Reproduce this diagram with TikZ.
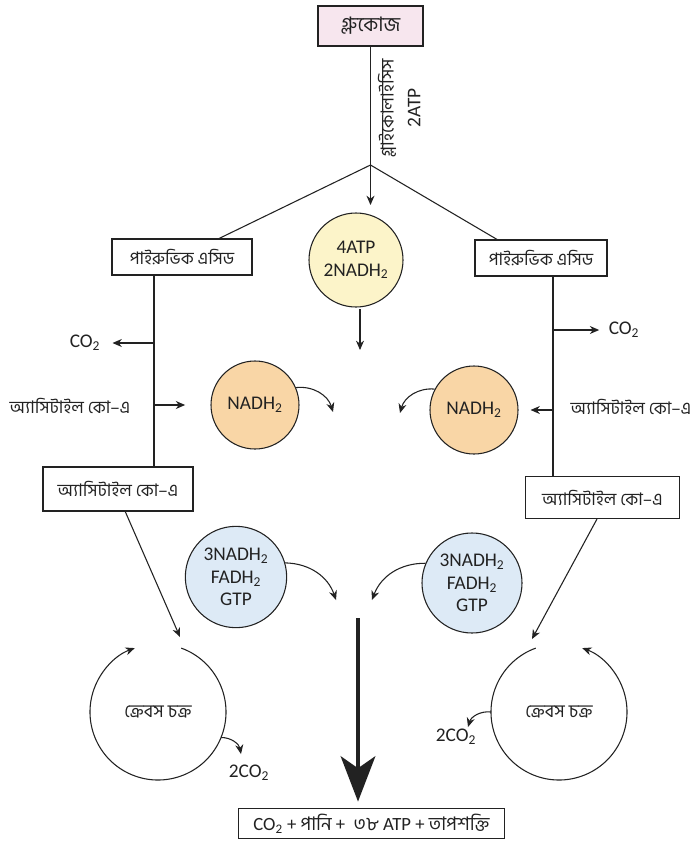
\documentclass[tikz,border=0pt]{standalone}
\usepackage{fontspec}
\setmainfont{Carlito}
\newfontfamily\bn[Script=Bengali]{Hind Siliguri}
\usetikzlibrary{arrows.meta}
\definecolor{pinkbox}{HTML}{F7E6EE}
\definecolor{yel}{HTML}{FCF4C9}
\definecolor{ora}{HTML}{F9D6A6}
\definecolor{blu}{HTML}{DDEAF6}
\definecolor{ink}{HTML}{222222}
\begin{document}
\begin{tikzpicture}[x=0.75pt,y=-0.75pt,
  box/.style={draw=ink, line width=0.9pt, fill=white, inner sep=0pt, text=ink, font=\bn\fontsize{13}{15}\selectfont},
  ln/.style={line width=0.8pt, draw=ink},
  arr/.style={ln, -{Stealth[length=7pt,width=6pt]}},
  bub/.style={circle, draw=ink, line width=0.8pt, inner sep=0pt, align=center, text=ink, font=\fontsize{14.5}{17}\selectfont},
  lbl/.style={inner sep=0pt, text=ink, font=\fontsize{14.5}{17}\selectfont},
  bnl/.style={inner sep=0pt, text=ink, font=\bn\fontsize{13}{15}\selectfont},
  kb/.style={inner sep=0pt, text=ink, font=\bn\fontsize{13.5}{15}\selectfont}
]
\fill[white] (0,0) rectangle (693,843);
\useasboundingbox (0,0) rectangle (693,843);

% nodes
\node[box, fill=pinkbox, line width=1.2pt, minimum width=78.75pt, minimum height=30pt, font=\bn\fontsize{15}{17}\selectfont] (glu) at (370.5,26) {গ্লুকোজ};
\node[bnl, font=\bn\fontsize{13.4}{15}\selectfont, rotate=90] (gly) at (387,108) {গ্লাইকোলাইসিস};
\node[lbl, rotate=90] (atp2) at (414,108) {2ATP};

\node[box, minimum width=105pt, minimum height=27pt] (pL) at (182,257) {পাইরুভিক এসিড};
\node[box, minimum width=99pt, minimum height=27pt] (pR) at (541,258) {পাইরুভিক এসিড};

\node[bub, fill=yel, minimum size=70.5pt] (yc) at (356,260) {4ATP\\2NADH\textsubscript{2}};

\node[lbl] (co2L) at (85,343) {CO\textsubscript{2}};
\node[lbl] (co2R) at (624,330) {CO\textsubscript{2}};
\node[bnl] (acL) at (70,406) {অ্যাসিটাইল কো–এ};
\node[bnl] (acR) at (631,407) {অ্যাসিটাইল কো–এ};

\node[bub, fill=ora, minimum size=66pt] (oL) at (255,405) {NADH\textsubscript{2}};
\node[bub, fill=ora, minimum size=66pt] (oR) at (474,410) {NADH\textsubscript{2}};

\node[box, minimum width=112.5pt, minimum height=33pt] (aL) at (118,489) {অ্যাসিটাইল কো–এ};
\node[box, minimum width=116pt, minimum height=32pt] (aR) at (602.5,497.5) {অ্যাসিটাইল কো–এ};

\node[bub, fill=blu, minimum size=76pt] (bL) at (236,577) {3NADH\textsubscript{2}\\FADH\textsubscript{2}\\GTP};
\node[bub, fill=blu, minimum size=75pt] (bR) at (472,583) {3NADH\textsubscript{2}\\FADH\textsubscript{2}\\GTP};

\node[kb] (kL) at (158,712) {ক্রেবস চক্র};
\node[kb] (kR) at (559,712) {ক্রেবস চক্র};
\node[lbl] (c2L) at (249,773) {2CO\textsubscript{2}};
\node[lbl] (c2R) at (456,737) {2CO\textsubscript{2}};

\node[box, font=\fontsize{14}{16}\selectfont, minimum width=200pt, minimum height=23pt] (res) at (371.5,823.5)
  {CO\textsubscript{2} + {\bn পানি} + \ {\bn ৩৮} ATP + {\bn তাপশক্তি}};

% coordinates
\coordinate (br) at (370.5,165);
\coordinate (gt) at (370.5,205);
\coordinate (pLt) at (218,239);
\coordinate (pRt) at (498,240);
\coordinate (vL) at (154,0);
\coordinate (vR) at (553,0);
\coordinate (ya1) at (360,309);
\coordinate (ya2) at (360,350);
\coordinate (oLe) at (333,412);
\coordinate (oRe) at (400,413);
\coordinate (bLe) at (336,600);
\coordinate (bRe) at (372,600);
\coordinate (aLs) at (125,511);
\coordinate (kLin) at (180,637);
\coordinate (aRs) at (597,519);
\coordinate (kRin) at (532,639);
\coordinate (c2Lt) at (241,754);
\coordinate (c2Rt) at (468,727);
\coordinate (t1) at (358,618);

% connectors
\draw[arr] (glu.south) -- (gt);
\draw[ln] (br) -- (pLt);
\draw[ln] (br) -- (pRt);
\draw[arr] (ya1) -- (ya2);

\draw[ln] (pL.south -| vL) -- (aL.north -| vL);
\draw[arr] (vL |- co2L) -- ([xshift=9pt]co2L.east);
\draw[arr] (vL |- oL) -- ([xshift=-19pt]oL.west);

\draw[ln] (pR.south -| vR) -- (aR.north -| vR);
\draw[arr] (vR |- co2R) -- ([xshift=-7pt]co2R.west);
\draw[arr] (vR |- oR) -- ([xshift=9pt]oR.east);

\draw[arr] (oL.23) to[bend left=40] (oLe);
\draw[arr] (oR.152) to[bend right=40] (oRe);
\draw[arr] (bL.16) to[bend left=35] (bLe);
\draw[arr] (bR.157) to[bend right=35] (bRe);

\draw[arr] (aLs) -- (kLin);
\draw[arr] (aRs) -- (kRin);

\draw[arr] (kL.center) ++(-70:68) arc (-70:250:68);
\draw[arr] (kR.center) ++(250:68) arc (250:-70:68);
\draw[arr] (kL.center) ++(22:68) to[bend left=40] (c2Lt);
\draw[arr] (kR.center) ++(180:68) to[bend right=40] (c2Rt);

\draw[line width=2.6pt, draw=ink, -{Stealth[length=34pt,width=26pt,inset=9pt]}] (t1) -- ([yshift=4.5pt]res.north -| t1);
\end{tikzpicture}
\end{document}
